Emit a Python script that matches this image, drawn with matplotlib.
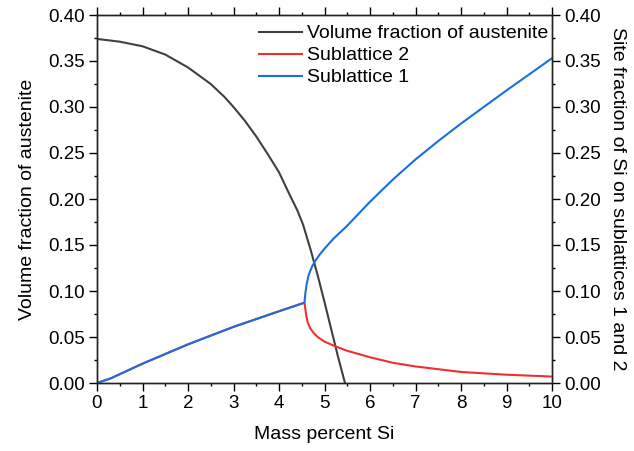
import matplotlib
matplotlib.use("Agg")
import matplotlib.pyplot as plt
from matplotlib.ticker import MultipleLocator, FormatStrFormatter

plt.rcParams['font.family'] = ['Liberation Sans', 'DejaVu Sans']

# Volume fraction of austenite
x_aus = [0.0, 0.5, 1.0, 1.5, 2.0, 2.5, 2.8, 3.0, 3.25, 3.5, 3.75, 4.0, 4.25, 4.4, 4.53, 4.7, 4.85, 5.0, 5.15, 5.3, 5.45]
y_aus = [0.374, 0.371, 0.366, 0.357, 0.343, 0.325, 0.311, 0.300, 0.285, 0.268, 0.249, 0.229, 0.203, 0.188, 0.172, 0.144, 0.117, 0.088, 0.058, 0.028, 0.0]

# Sublattice 2
x_s2 = [0.0, 0.3, 1.0, 2.0, 3.0, 4.0, 4.56, 4.58, 4.6, 4.63, 4.68, 4.75, 4.85, 5.0, 5.23, 5.5, 6.0, 6.5, 7.0, 8.0, 9.0, 10.0]
y_s2 = [0.0, 0.005, 0.021, 0.042, 0.061, 0.078, 0.0873, 0.080, 0.073, 0.066, 0.060, 0.055, 0.050, 0.045, 0.040, 0.035, 0.028, 0.022, 0.018, 0.012, 0.009, 0.007]

# Sublattice 1
x_s1 = [0.0, 0.3, 1.0, 2.0, 3.0, 4.0, 4.56, 4.58, 4.61, 4.65, 4.72, 4.8, 4.9, 5.0, 5.2, 5.5, 6.0, 6.5, 7.0, 7.5, 8.0, 9.0, 10.0]
y_s1 = [0.0, 0.005, 0.021, 0.042, 0.061, 0.078, 0.0873, 0.098, 0.108, 0.117, 0.126, 0.133, 0.140, 0.146, 0.157, 0.171, 0.197, 0.221, 0.243, 0.263, 0.282, 0.318, 0.353]

fig = plt.figure(figsize=(6.34, 4.51), dpi=100)
ax = fig.add_axes([97 / 634, 68 / 451, 455 / 634, 368 / 451])
ax2 = ax.twinx()

ax.plot(x_aus, y_aus, color='#404040', lw=1.5, label='Volume fraction of austenite')
ax2.plot(x_s2, y_s2, color='#f03030', lw=1.5, label='Sublattice 2')
ax2.plot(x_s1, y_s1, color='#1a6fe0', lw=1.5, label='Sublattice 1')

for a in (ax, ax2):
    a.set_xlim(0, 10)
    a.set_ylim(0, 0.40)
    a.yaxis.set_major_locator(MultipleLocator(0.05))
    a.yaxis.set_minor_locator(MultipleLocator(0.025))
    a.yaxis.set_major_formatter(FormatStrFormatter('%.2f'))
    for s in a.spines.values():
        s.set_linewidth(1.0)
        s.set_color('#222222')

ax.xaxis.set_major_locator(MultipleLocator(1))
ax.xaxis.set_minor_locator(MultipleLocator(0.5))
ax.tick_params(axis='both', which='major', direction='out', length=5.5, width=1, labelsize=13.5, top=True, pad=3)
ax.tick_params(axis='both', which='minor', direction='out', length=2.5, width=1, top=True)
ax2.tick_params(axis='y', which='major', direction='out', length=5.5, width=1, labelsize=13.5, pad=3)
ax2.tick_params(axis='y', which='minor', direction='out', length=2.5, width=1)

ax.set_xlabel('Mass percent Si', fontsize=14, labelpad=10)
ax.set_ylabel('Volume fraction of austenite', fontsize=14, labelpad=9)
ax2.set_ylabel('Site fraction of Si on sublattices 1 and 2', fontsize=14, rotation=270,
               labelpad=18)

h1, l1 = ax.get_legend_handles_labels()
h2, l2 = ax2.get_legend_handles_labels()
ax2.legend(h1 + h2, l1 + l2, loc='upper right', bbox_to_anchor=(1.014, 1.0),
           frameon=False, fontsize=14,
           handlelength=2.2, borderaxespad=0.1, borderpad=0.4,
           labelspacing=0.23, handletextpad=0.3)

fig.savefig('out.png', dpi=100)
